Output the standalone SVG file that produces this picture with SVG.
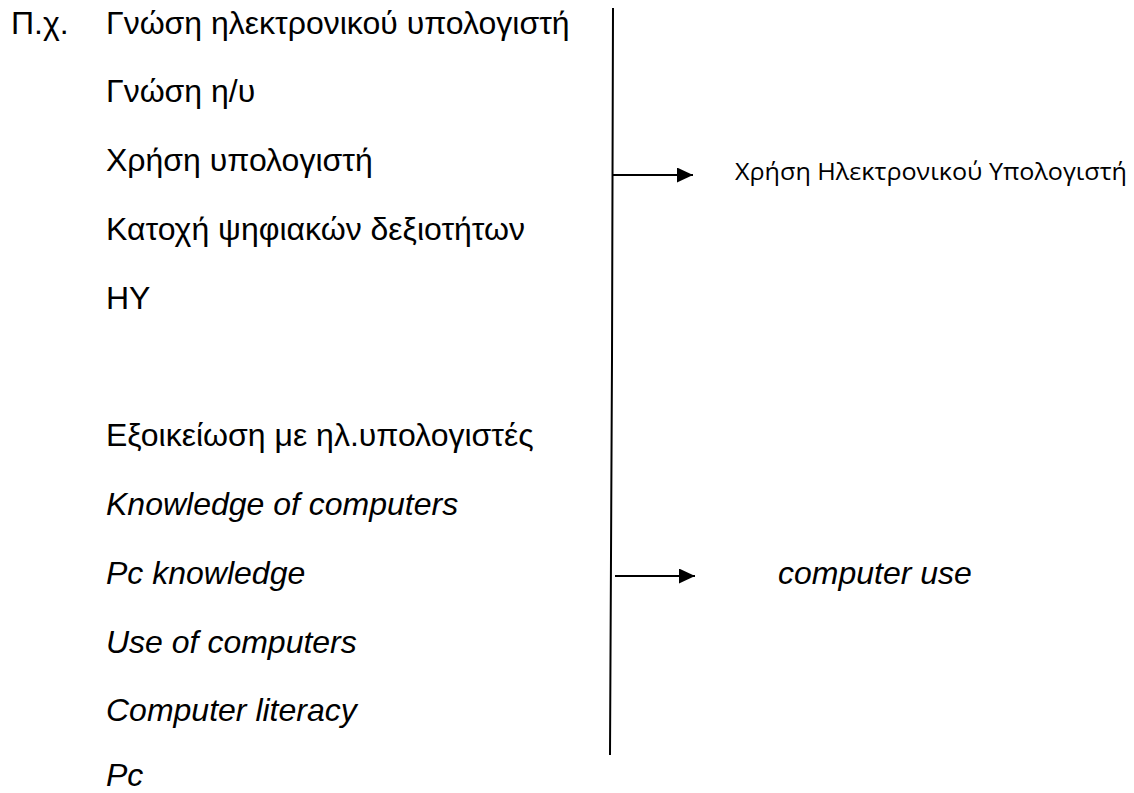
<svg xmlns="http://www.w3.org/2000/svg" width="1134" height="793" viewBox="0 0 1134 793">
<defs>
<style>
.t{font-family:"Liberation Sans",Arial,sans-serif;font-size:32px;fill:#000}
.i{font-style:italic}
.c{font-family:"Open Sans","Noto Sans",sans-serif;font-size:24px;fill:#000}
.ln{stroke:#000;stroke-width:2;fill:none}
</style>
<marker id="ah" viewBox="0 0 16 15" refX="16" refY="7.5" markerWidth="16" markerHeight="15" markerUnits="userSpaceOnUse" orient="auto">
<path d="M0,0 L16,7.5 L0,15 Z" fill="#000"/>
</marker>
</defs>
<rect width="1134" height="793" fill="#fff"/>
<g id="greek-list">
<text class="t" x="11" y="34">Π.χ.</text>
<text class="t" x="106" y="34">Γνώση ηλεκτρονικού υπολογιστή</text>
<text class="t" x="106" y="102">Γνώση η/υ</text>
<text class="t" x="106" y="171">Χρήση υπολογιστή</text>
<text class="t" x="106" y="240">Κατοχή ψηφιακών δεξιοτήτων</text>
<text class="t" x="106" y="309">ΗΥ</text>
</g>
<g id="english-list">
<text class="t" x="106" y="446">Εξοικείωση με ηλ.υπολογιστές</text>
<text class="t i" x="106" y="515">Knowledge of computers</text>
<text class="t i" x="106" y="584">Pc knowledge</text>
<text class="t i" x="106" y="653">Use of computers</text>
<text class="t i" x="106" y="721">Computer literacy</text>
<text class="t i" x="106" y="786">Pc</text>
</g>
<g id="result-greek">
<text class="c" x="735" y="180" textLength="392" lengthAdjust="spacingAndGlyphs">Χρήση Ηλεκτρονικού Υπολογιστή</text>
</g>
<g id="result-english">
<text class="t i" x="778" y="584">computer use</text>
</g>
<g id="connectors">
<polyline class="ln" points="613,8 612,358 610,755"/>
<line class="ln" x1="613" y1="175" x2="693" y2="175" marker-end="url(#ah)"/>
<line class="ln" x1="615" y1="576" x2="695" y2="576" marker-end="url(#ah)"/>
</g>
</svg>
